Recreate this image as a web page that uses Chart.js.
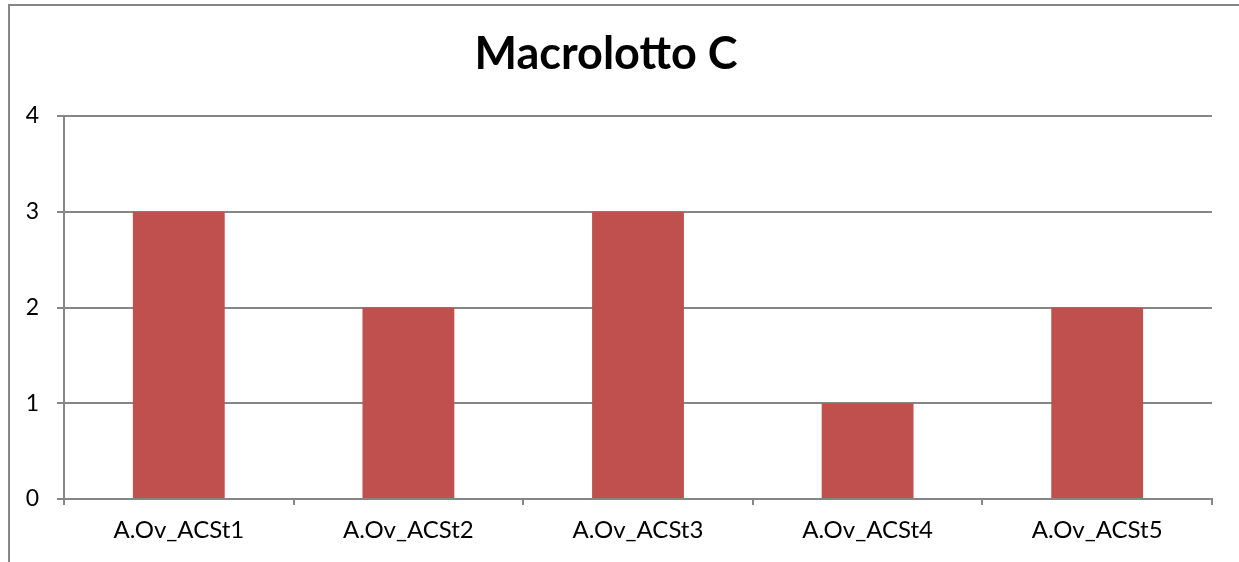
<!DOCTYPE html>
<html>
<head>
<meta charset="utf-8">
<script src="https://cdn.jsdelivr.net/npm/chart.js@4/dist/chart.umd.min.js"></script>
<style>
  html, body { margin: 0; padding: 0; background: #fff; }
  #wrap { width: 1239px; height: 562px; position: relative; }
</style>
</head>
<body>
<div id="wrap"><canvas id="my_bar_chart" width="1239" height="562"></canvas></div>
<script>
var categories = ["A.Ov_ACSt1", "A.Ov_ACSt2", "A.Ov_ACSt3", "A.Ov_ACSt4", "A.Ov_ACSt5"];
var values = [3, 2, 3, 1, 2];
var yTicks = [0, 1, 2, 3, 4];

var FONT = "Lato, 'Open Sans', sans-serif";

// outer frame of the chart object (only left and top edges are visible)
var framePlugin = {
    id: 'frame',
    afterDraw: function (chart) {
        var ctx = chart.ctx;
        ctx.save();
        ctx.strokeStyle = '#868686';
        ctx.lineWidth = 2;
        ctx.beginPath();
        ctx.moveTo(9, 562);
        ctx.lineTo(9, 5);
        ctx.lineTo(1239, 5);
        ctx.stroke();
        ctx.restore();
    }
};

new Chart(document.getElementById("my_bar_chart").getContext("2d"), {
    type: 'bar',
    data: {
        labels: categories,
        datasets: [{
            label: "Macrolotto C",
            data: values,
            backgroundColor: '#C0504D',
            categoryPercentage: 1,
            barPercentage: 0.4
        }]
    },
    options: {
        responsive: false,
        animation: false,
        layout: { padding: { left: 0, right: 27, top: 0, bottom: 0 } },
        plugins: {
            legend: { display: false },
            tooltip: { enabled: false },
            title: {
                display: true,
                text: "Macrolotto C",
                color: '#000',
                font: { family: FONT, size: 45, weight: 'bold', lineHeight: 1.2 },
                padding: { top: 27.5, bottom: 34.5 }
            }
        },
        scales: {
            x: {
                offset: true,
                afterFit: function (scale) { scale.height = 63; },
                grid: {
                    offset: true,
                    drawOnChartArea: false,
                    drawTicks: true,
                    tickLength: 6,
                    color: '#868686',
                    lineWidth: 2
                },
                border: { color: '#868686', width: 2 },
                ticks: {
                    color: '#000',
                    padding: 11,
                    font: { family: FONT, size: 24 },
                    maxRotation: 0
                }
            },
            y: {
                min: 0,
                max: 4,
                afterFit: function (scale) { scale.width = 64; },
                afterBuildTicks: function (scale) {
                    scale.ticks = yTicks.map(function (v) { return { value: v }; });
                },
                grid: {
                    color: '#868686',
                    lineWidth: 2,
                    tickLength: 7
                },
                border: { color: '#868686', width: 2 },
                ticks: {
                    color: '#000',
                    padding: 18,
                    font: { family: FONT, size: 23 }
                }
            }
        }
    },
    plugins: [framePlugin]
});
</script>
</body>
</html>
